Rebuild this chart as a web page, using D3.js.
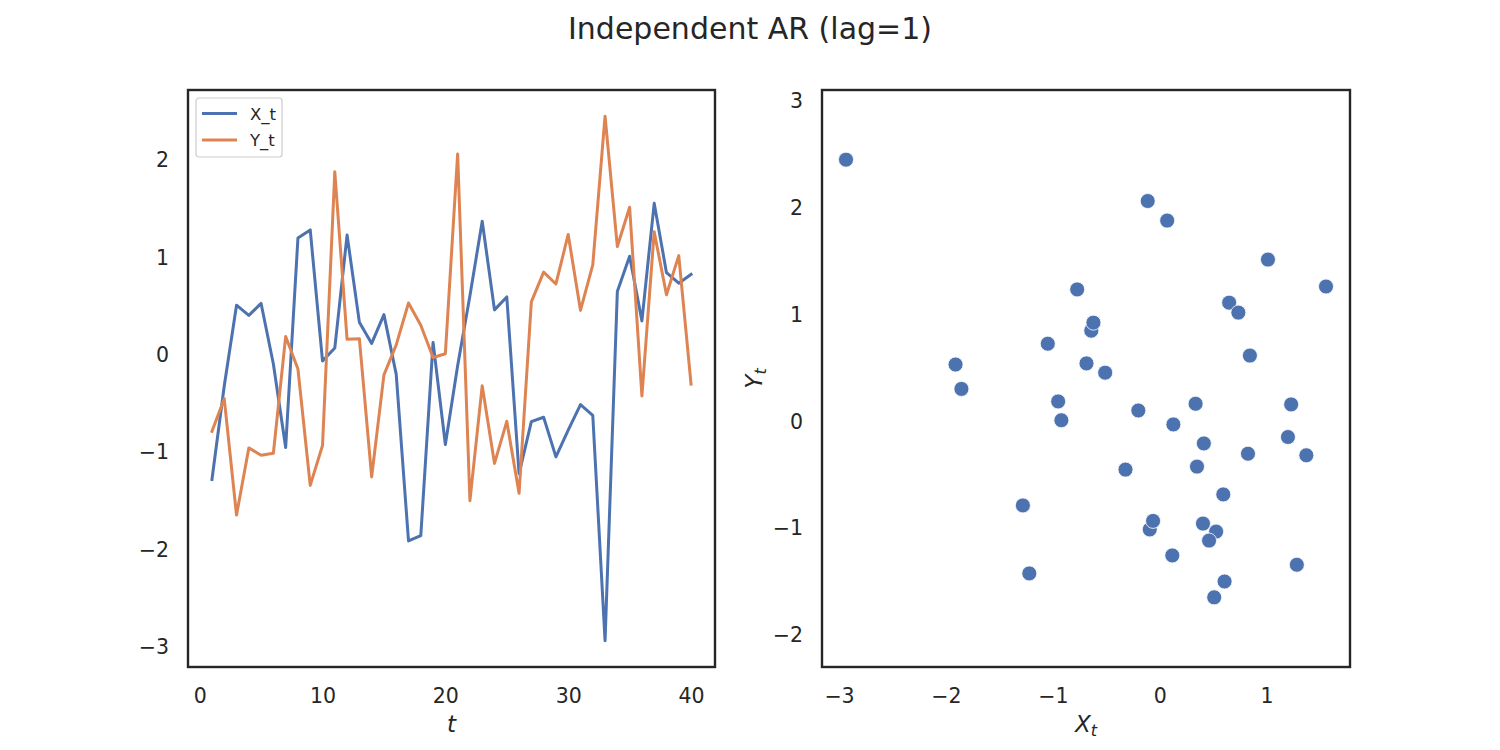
<!DOCTYPE html>
<html><head><meta charset="utf-8">
<script src="https://cdn.jsdelivr.net/npm/d3@7"></script>
<style>
body{margin:0;background:#fff}
svg{font-family:"DejaVu Sans",sans-serif}
</style>
</head><body>
<svg id="chart" width="1500" height="750"></svg>
<script>
// ---- data ----
const tValues = [1,2,3,4,5,6,7,8,9,10,11,12,13,14,15,16,17,18,19,20,
                 21,22,23,24,25,26,27,28,29,30,31,32,33,34,35,36,37,38,39,40];
const xSeries = [-1.28,-0.32,0.51,0.405,0.528,-0.093,-0.95,1.20,1.283,-0.062,
                 0.07,1.23,0.336,0.118,0.413,-0.20,-1.91,-1.855,0.128,-0.92,
                 -0.112,0.607,1.372,0.462,0.595,-1.22,-0.685,-0.64,-1.047,-0.772,
                 -0.51,-0.62,-2.935,0.65,1.013,0.349,1.556,0.844,0.736,0.826];
const ySeries = [-0.785,-0.45,-1.645,-0.955,-1.03,-1.01,0.188,-0.145,-1.34,-0.93,
                 1.88,0.16,0.166,-1.253,-0.205,0.103,0.533,0.305,-0.027,0.012,
                 2.063,-1.497,-0.316,-1.114,-0.682,-1.421,0.544,0.85,0.728,1.236,
                 0.457,0.925,2.45,1.112,1.515,-0.422,1.263,0.617,1.019,-0.301];
const seriesNames = ["X_t","Y_t"];
const seriesColors = ["#4C72B0","#DD8452"];
const leftXTicks = [0,10,20,30,40];
const leftYTicks = [-3,-2,-1,0,1,2];
const rightXTicks = [-3,-2,-1,0,1];
const rightYTicks = [-2,-1,0,1,2,3];
const titleText = "Independent AR (lag=1)";

// ---- layout ----
const svg = d3.select("#chart");
const textColor = "#262626";
const L = {x0:188, x1:715, y0:90, y1:667};
const R = {x0:822, x1:1350, y0:90, y1:667};

function padded(ext, m=0.05){const r=ext[1]-ext[0];return [ext[0]-r*m, ext[1]+r*m];}

// left scales
const lx = d3.scaleLinear().domain(padded(d3.extent(tValues))).range([L.x0, L.x1]);
const lyExt = d3.extent(xSeries.concat(ySeries));
const ly = d3.scaleLinear().domain(padded(lyExt)).range([L.y1, L.y0]);

// right scales (equal aspect, data-limits adjusted)
const rxDom = padded(d3.extent(xSeries));
const rx = d3.scaleLinear().domain(rxDom).range([R.x0, R.x1]);
const ppu = (R.x1-R.x0)/(rxDom[1]-rxDom[0]);
const yExt = d3.extent(ySeries);
const yMid = (yExt[0]+yExt[1])/2;
const ySpan = (R.y1-R.y0)/ppu;
const ry = d3.scaleLinear().domain([yMid-ySpan/2, yMid+ySpan/2]).range([R.y1, R.y0]);

function styleAxis(g){
  g.select(".domain").remove();
  g.selectAll("text").attr("fill",textColor).style("font-size","20.5px")
   .style("font-family","'DejaVu Sans',sans-serif");
}

// title
svg.append("text").attr("x",750).attr("y",39).attr("text-anchor","middle")
  .attr("fill",textColor).style("font-size","30px").text(titleText);

// ---------- left panel ----------
const gl = svg.append("g");
gl.append("g").attr("transform",`translate(0,${L.y1})`)
  .call(d3.axisBottom(lx).tickValues(leftXTicks).tickSize(0).tickPadding(21).tickFormat(d3.format("d")))
  .call(styleAxis);
gl.append("g").attr("transform",`translate(${L.x0},0)`)
  .call(d3.axisLeft(ly).tickValues(leftYTicks).tickSize(0).tickPadding(19).tickFormat(d3.format("d")))
  .call(styleAxis);

const line = d3.line().x((d,i)=>lx(tValues[i])).y(d=>ly(d));
[xSeries, ySeries].forEach((s,k)=>{
  gl.append("path").datum(s).attr("d",line).attr("fill","none")
    .attr("stroke",seriesColors[k]).attr("stroke-width",3)
    .attr("stroke-linejoin","round").attr("stroke-linecap","square");
});
gl.append("rect").attr("x",L.x0).attr("y",L.y0).attr("width",L.x1-L.x0).attr("height",L.y1-L.y0)
  .attr("fill","none").attr("stroke","#262626").attr("stroke-width",2.4);

// legend
const lg = gl.append("g").attr("transform","translate(196,98)");
lg.append("rect").attr("x",0).attr("y",0).attr("width",86).attr("height",59).attr("rx",3)
  .attr("fill","#fff").attr("fill-opacity",0.8).attr("stroke","#cccccc").attr("stroke-width",1.2);
seriesNames.forEach((n,k)=>{
  const yy = 15.5 + k*26.5;
  lg.append("line").attr("x1",6).attr("x2",41).attr("y1",yy).attr("y2",yy)
    .attr("stroke",seriesColors[k]).attr("stroke-width",3);
  lg.append("text").attr("x",54).attr("y",yy+6).attr("fill",textColor)
    .style("font-size","16.5px").text(n);
});

// x label
gl.append("text").attr("x",(L.x0+L.x1)/2).attr("y",732).attr("text-anchor","middle")
  .attr("fill",textColor).style("font-size","23px").style("font-style","italic").text("t");

// ---------- right panel ----------
const gr = svg.append("g");
gr.append("g").attr("transform",`translate(0,${R.y1})`)
  .call(d3.axisBottom(rx).tickValues(rightXTicks).tickSize(0).tickPadding(21).tickFormat(d3.format("d")))
  .call(styleAxis);
gr.append("g").attr("transform",`translate(${R.x0},0)`)
  .call(d3.axisLeft(ry).tickValues(rightYTicks).tickSize(0).tickPadding(19).tickFormat(d3.format("d")))
  .call(styleAxis);

gr.selectAll("circle.pt").data(xSeries).join("circle").attr("class","pt")
  .attr("cx",d=>rx(d)).attr("cy",(d,i)=>ry(ySeries[i])).attr("r",7.5)
  .attr("fill",seriesColors[0]).attr("stroke","#fff").attr("stroke-width",0.8);
gr.append("rect").attr("x",R.x0).attr("y",R.y0).attr("width",R.x1-R.x0).attr("height",R.y1-R.y0)
  .attr("fill","none").attr("stroke","#262626").attr("stroke-width",2.4);

// x label X_t
const xl = gr.append("text").attr("x",(R.x0+R.x1)/2).attr("y",732).attr("text-anchor","middle")
  .attr("fill",textColor).style("font-size","23px").style("font-style","italic");
xl.append("tspan").text("X");
xl.append("tspan").attr("dy",4).style("font-size","16px").text("t");

// y label Y_t
const yl = gr.append("text").attr("transform",`translate(762,${(R.y0+R.y1)/2}) rotate(-90)`)
  .attr("text-anchor","middle").attr("fill",textColor).style("font-size","23px").style("font-style","italic");
yl.append("tspan").text("Y");
yl.append("tspan").attr("dy",4).style("font-size","16px").text("t");
</script>
</body></html>
